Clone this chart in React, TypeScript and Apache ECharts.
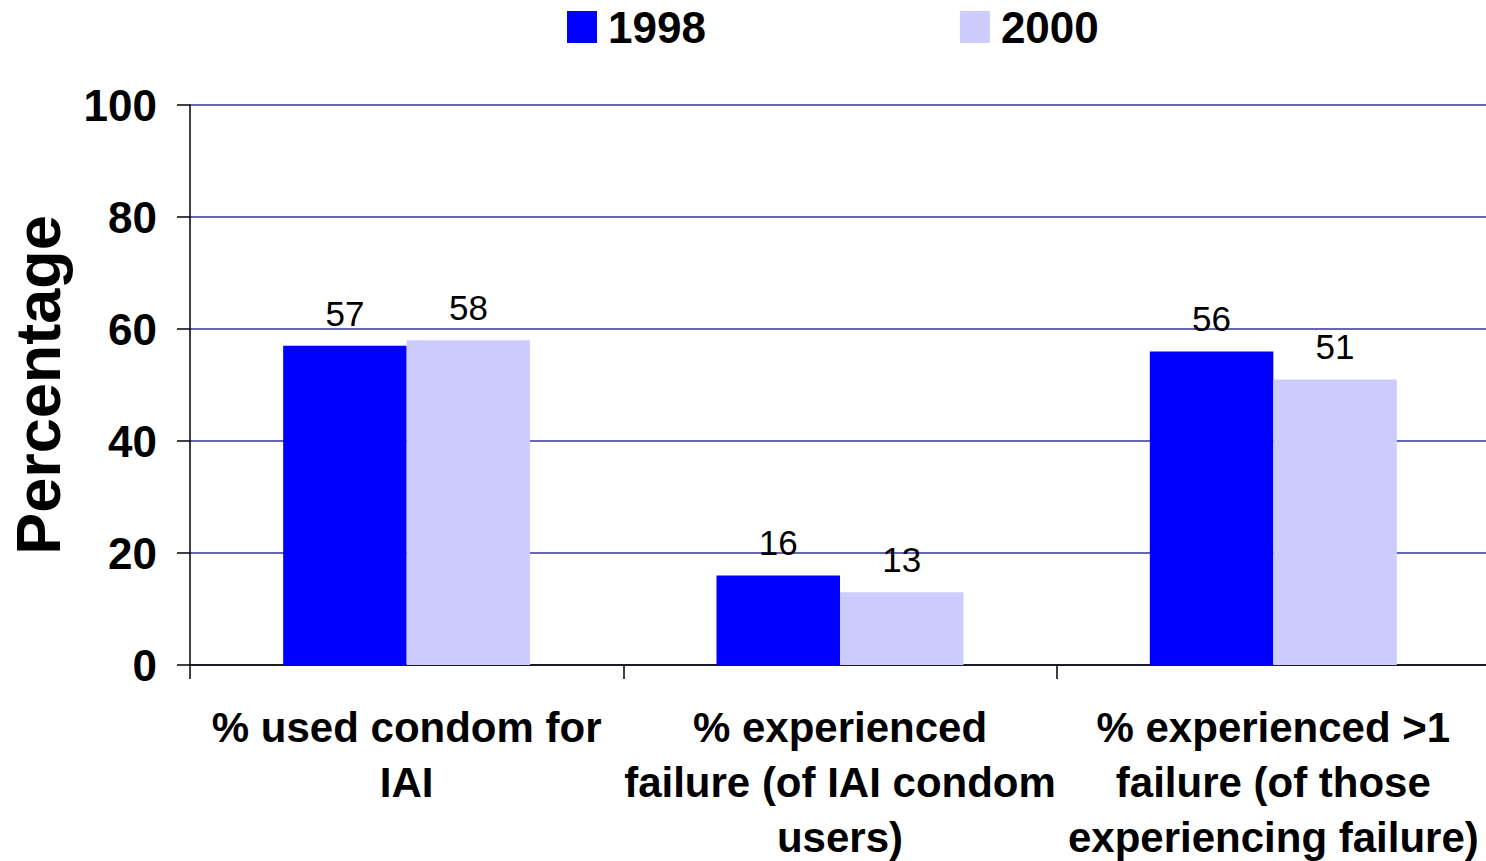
import React, { useEffect, useRef } from "react";
import * as echarts from "echarts";

const categories = [
  "% used condom for\nIAI",
  "% experienced\nfailure (of IAI condom\nusers)",
  "% experienced >1\nfailure (of those\nexperiencing failure)",
];
const series1998 = [57, 16, 56];
const series2000 = [58, 13, 51];
const seriesNames = ["1998", "2000"];
const yTicks = { min: 0, max: 100, interval: 20 };

const FONT = '"Liberation Sans", Arial, Helvetica, sans-serif';

export default function App() {
  const ref = useRef<HTMLDivElement>(null);
  useEffect(() => {
    document.body.style.margin = "0";
    const chart = echarts.init(ref.current!, null, { renderer: "svg" });
    const labelCfg = {
      show: true,
      position: "top" as const,
      distance: 15,
      color: "#000",
      fontFamily: FONT,
      fontSize: 35,
      fontWeight: "normal" as const,
    };
    chart.setOption({
      animation: false,
      textStyle: { fontFamily: FONT },
      legend: {
        top: 5,
        left: 567,
        padding: 0,
        itemWidth: 30,
        itemHeight: 32,
        itemGap: 254,
        icon: "rect",
        data: seriesNames,
        textStyle: {
          fontFamily: FONT,
          fontSize: 44,
          fontWeight: "bold",
          color: "#000",
          padding: [0, 0, 0, 6],
        },
      },
      grid: {
        left: 190,
        right: -4,
        top: 105,
        bottom: 196,
        containLabel: false,
        outerBoundsMode: "none",
      },
      xAxis: {
        type: "category",
        data: categories,
        axisLine: { show: true, lineStyle: { color: "#000", width: 1.5 } },
        axisTick: { show: true, alignWithLabel: false, length: 14, lineStyle: { color: "#000", width: 1.5 } },
        axisLabel: {
          interval: 0,
          margin: 35,
          color: "#000",
          fontFamily: FONT,
          fontSize: 42,
          fontWeight: "bold",
          lineHeight: 55,
        },
        splitLine: { show: false },
      },
      yAxis: {
        type: "value",
        min: yTicks.min,
        max: yTicks.max,
        interval: yTicks.interval,
        name: "Percentage",
        nameLocation: "middle",
        nameGap: 121,
        nameRotate: 90,
        nameTextStyle: { fontFamily: FONT, fontSize: 63, fontWeight: "bold", color: "#000" },
        axisLine: { show: true, lineStyle: { color: "#000", width: 1.5 } },
        axisTick: { show: true, inside: false, length: 13, lineStyle: { color: "#000", width: 1.5 } },
        axisLabel: {
          margin: 33,
          color: "#000",
          fontFamily: FONT,
          fontSize: 44,
          fontWeight: "bold",
        },
        splitLine: { show: true, lineStyle: { color: "#333399", width: 1.5 } },
      },
      series: [
        {
          name: seriesNames[0],
          type: "bar",
          data: series1998,
          barGap: "0%",
          barCategoryGap: "43%",
          itemStyle: { color: "#0000FF" },
          label: labelCfg,
        },
        {
          name: seriesNames[1],
          type: "bar",
          data: series2000,
          barGap: "0%",
          barCategoryGap: "43%",
          itemStyle: { color: "#CCCCFF" },
          label: labelCfg,
        },
      ],
    });
    return () => chart.dispose();
  }, []);
  return (
    <div
      ref={ref}
      style={{ position: "absolute", left: 0, top: 0, width: 1486, height: 861, background: "#fff" }}
    />
  );
}
